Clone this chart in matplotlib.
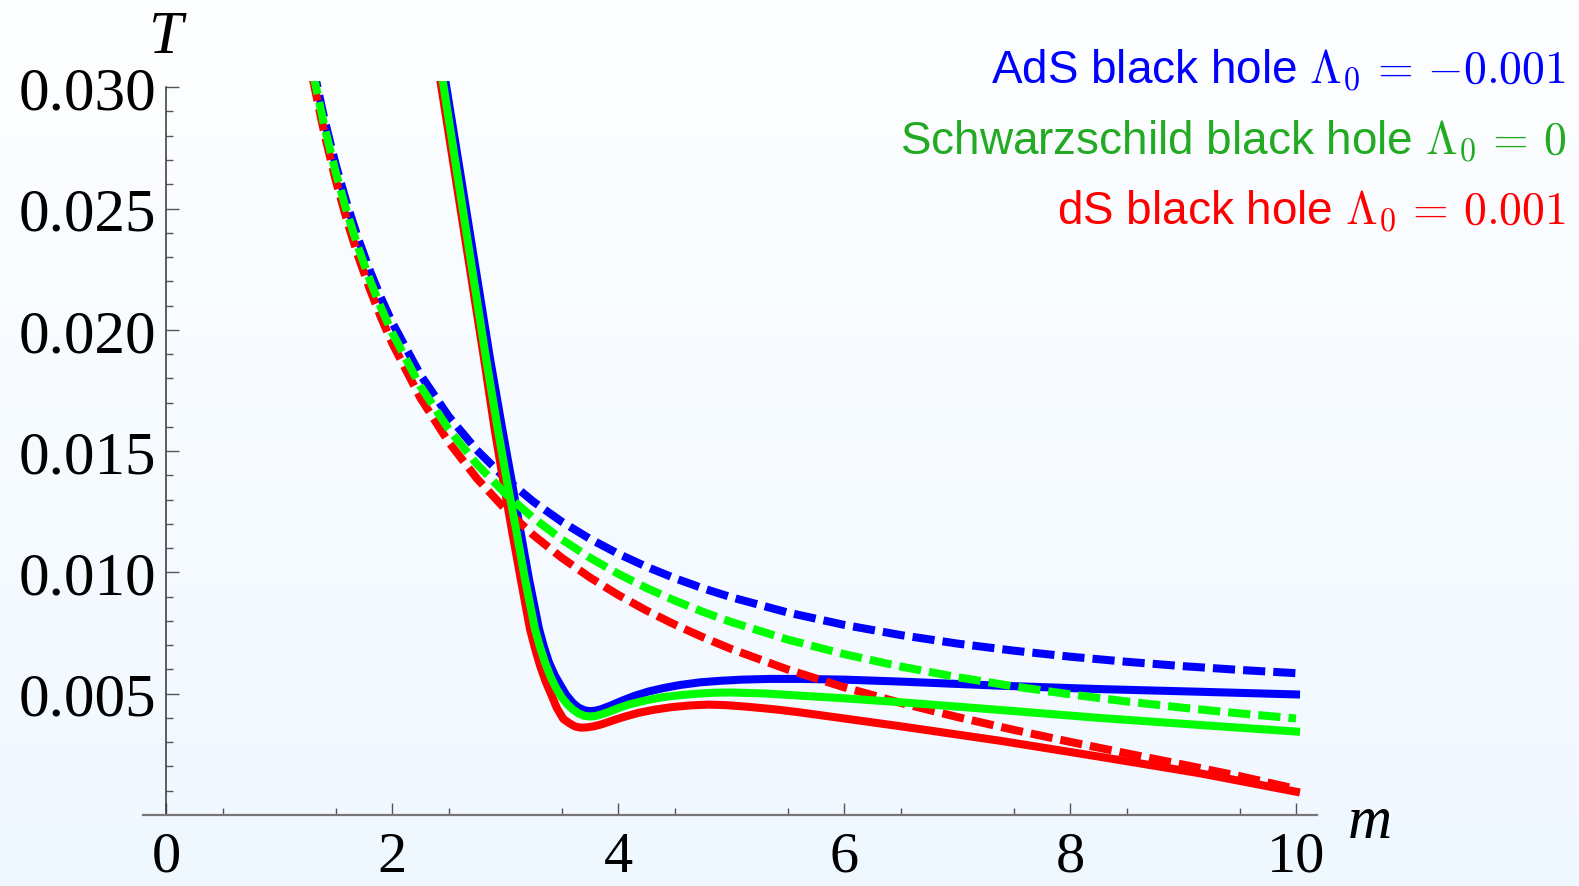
import numpy as np
import matplotlib
matplotlib.use('Agg')
import matplotlib.pyplot as plt
import matplotlib.patches
from matplotlib.colors import LinearSegmentedColormap

plt.rcParams['mathtext.fontset'] = 'cm'

# ============================================================================
# DATA
# ============================================================================

# dashed curves, common mass grid
m_dash = [1.3, 1.4, 1.5, 1.6, 1.7, 1.8, 1.9, 2.0, 2.25, 2.5, 2.75, 3.0, 3.25, 3.5,
          3.75, 4.0, 4.25, 4.5, 4.75, 5.0, 5.5, 6.0, 6.5, 7.0, 7.5, 8.0, 8.5, 9.0,
          9.5, 10.0]
T_dash_ads = [0.030882, 0.028717, 0.026843, 0.025206, 0.023764, 0.022485, 0.021343,
              0.020316, 0.018157, 0.016440, 0.015045, 0.013890, 0.012921, 0.012096,
              0.011387, 0.010773, 0.010237, 0.009765, 0.009347, 0.008979, 0.008349,
              0.007838, 0.007418, 0.007068, 0.006775, 0.006527, 0.006316, 0.006136,
              0.005980, 0.005846]
T_dash_schw = [0.030607, 0.028421, 0.026526, 0.024868, 0.023405, 0.022105, 0.020942,
               0.019894, 0.017684, 0.015915, 0.014469, 0.013263, 0.012243, 0.011368,
               0.010610, 0.009947, 0.009362, 0.008842, 0.008377, 0.007958, 0.007234,
               0.006632, 0.006121, 0.005684, 0.005305, 0.004974, 0.004681, 0.004421,
               0.004188, 0.003979]
T_dash_ds = [0.030330, 0.028123, 0.026206, 0.024527, 0.023043, 0.021721, 0.020536,
             0.019467, 0.017202, 0.015379, 0.013878, 0.012617, 0.011541, 0.010610,
             0.009796, 0.009076, 0.008433, 0.007855, 0.007331, 0.006847, 0.005999,
             0.005267, 0.004622, 0.004042, 0.003511, 0.003015, 0.002542, 0.002078,
             0.001603, 0.001076]

# solid curves
m_solid_ads = [2.42, 2.472, 2.584, 2.726, 2.868, 2.976, 3.056, 3.133, 3.212, 3.301,
               3.345, 3.389, 3.44, 3.493, 3.54, 3.60, 3.65, 3.70, 3.75, 3.80, 3.85,
               3.93, 4.03, 4.14, 4.27, 4.40, 4.55, 4.73, 4.90, 5.10, 5.35, 5.611,
               6.0, 6.496, 7.381, 8.265, 9.150, 10.0]
T_solid_ads = [0.0318, 0.03027, 0.02704, 0.02292, 0.01880, 0.01591, 0.01385, 0.01179,
               0.00973, 0.00767, 0.00692, 0.00629, 0.00576, 0.00533, 0.00496, 0.00462,
               0.00443, 0.00432, 0.00428, 0.00430, 0.00436, 0.00450, 0.00470, 0.00490,
               0.00509, 0.00523, 0.00536, 0.00547, 0.00553, 0.00558, 0.00561, 0.00561,
               0.00558, 0.00550, 0.00533, 0.00519, 0.00508, 0.00497]

m_solid_schw = [2.398, 2.449, 2.557, 2.695, 2.833, 2.936, 3.014, 3.097, 3.177, 3.265,
                3.31, 3.354, 3.40, 3.457, 3.50, 3.55, 3.60, 3.65, 3.70, 3.75, 3.80,
                3.85, 3.90, 4.00, 4.10, 4.25, 4.40, 4.55, 4.70, 4.85, 5.0, 5.3,
                5.611, 6.0, 6.496, 7.381, 8.265, 9.150, 10.0]
T_solid_schw = [0.0318, 0.03027, 0.02704, 0.02292, 0.01880, 0.01591, 0.01385, 0.01179,
                0.00973, 0.00767, 0.00692, 0.00629, 0.00573, 0.00519, 0.00486, 0.00457,
                0.00435, 0.00419, 0.00409, 0.00406, 0.00408, 0.00414, 0.00422, 0.00440,
                0.00456, 0.00473, 0.00486, 0.00494, 0.00500, 0.00504, 0.00505, 0.00501,
                0.00492, 0.00481, 0.00465, 0.00433, 0.00400, 0.00371, 0.00344]

m_solid_ds = [2.378, 2.428, 2.537, 2.676, 2.815, 2.908, 2.982, 3.059, 3.139, 3.221,
              3.265, 3.310, 3.36, 3.413, 3.46, 3.516, 3.57, 3.62, 3.67, 3.72, 3.78,
              3.85, 3.95, 4.05, 4.18, 4.32, 4.48, 4.65, 4.80, 4.95, 5.15, 5.40,
              5.611, 6.0, 6.496, 7.381, 8.265, 9.150, 10.0]
T_solid_ds = [0.0318, 0.03027, 0.02704, 0.02292, 0.01880, 0.01591, 0.01385, 0.01179,
              0.00973, 0.00767, 0.00688, 0.00616, 0.00550, 0.00492, 0.00440, 0.00396,
              0.00378, 0.00365, 0.00360, 0.00361, 0.00365, 0.00373, 0.00389, 0.00404,
              0.00421, 0.00434, 0.00445, 0.00452, 0.00455, 0.00453, 0.00446, 0.00435,
              0.00423, 0.00398, 0.00366, 0.00306, 0.00240, 0.00172, 0.00096]

labels = [r'AdS black hole $\Lambda_0\,=\,{-0.001}$',
          r'Schwarzschild black hole $\Lambda_0\,=\,0$',
          r'dS black hole $\Lambda_0\,=\,0.001$']
label_colors = ['#0000FF', '#22AA22', '#FF0000']

x_ticks = [0, 2, 4, 6, 8, 10]
x_ticklabels = ['0', '2', '4', '6', '8', '10']
y_ticks = [0.005, 0.010, 0.015, 0.020, 0.025, 0.030]
y_ticklabels = ['0.005', '0.010', '0.015', '0.020', '0.025', '0.030']

# ============================================================================
# FIGURE
# ============================================================================

W, H = 1579, 887
fig = plt.figure(figsize=(W / 100, H / 100), dpi=100)

# background gradient (white at top -> pale blue at bottom)
bg = fig.add_axes([0, 0, 1, 1], zorder=0)
bgmap = LinearSegmentedColormap.from_list('bg', ['#F0F8FF', '#FDFEFF'])
bg.imshow(np.linspace(1, 0, 256).reshape(-1, 1), cmap=bgmap, aspect='auto',
          extent=[0, 1, 0, 1], vmin=0, vmax=1)
bg.axis('off')

ax = fig.add_axes([0, 0, 1, 1], zorder=1)
ax.patch.set_alpha(0)

# pixel mapping: x_px = 166 + 113*m ; y_px(from top) = 816 - 24260*T
x0, sx = 166, 113
y0, sy = 816, 24260
ax.set_xlim(-x0 / sx, (W - x0) / sx)
ax.set_ylim((y0 - H) / sy, y0 / sy)

clip = matplotlib.patches.Rectangle((-0.5, -0.01), 11.0, 0.04027, transform=ax.transData)

lw = 5.8
dash = (2.75, 1.0)
curves = [
    ('#0000FF', m_solid_ads, T_solid_ads, T_dash_ads, 2),
    ('#FF0000', m_solid_ds, T_solid_ds, T_dash_ds, 3),
    ('#00FF00', m_solid_schw, T_solid_schw, T_dash_schw, 4),
]
for col, ms, Ts, Td, z in curves:
    l1, = ax.plot(ms, Ts, color=col, lw=lw, solid_joinstyle='round', zorder=z)
    l2, = ax.plot(m_dash, Td, color=col, lw=lw, dashes=dash, dash_capstyle='butt', zorder=z)
    l1.set_clip_path(clip)
    l2.set_clip_path(clip)

# axes through the origin, Mathematica style
for s in ['top', 'right']:
    ax.spines[s].set_visible(False)
ax.spines['left'].set_position(('data', 0))
ax.spines['bottom'].set_position(('data', 0))
ax.spines['left'].set_bounds(0, 0.030)
ax.spines['bottom'].set_bounds(-0.2, 10.19)
ax.spines['left'].set_color('#333333')
ax.spines['bottom'].set_color('#777777')
ax.spines['left'].set_linewidth(1.1)
ax.spines['bottom'].set_linewidth(1.6)

ax.set_xticks(x_ticks)
ax.set_xticklabels(x_ticklabels)
ax.set_xticks(np.arange(0.5, 10.01, 1.0), minor=True)
ax.set_yticks(y_ticks)
ax.set_yticklabels(y_ticklabels)
ax.set_yticks([v / 1000 for v in range(1, 30) if v % 5 != 0], minor=True)

for t in ax.get_xticklabels():
    t.set_fontfamily('Liberation Serif')
    t.set_fontsize(42)
for t in ax.get_yticklabels():
    t.set_fontfamily('Liberation Serif')
    t.set_fontsize(44)
ax.tick_params(axis='x', which='major', direction='in', length=9, width=1.0,
               color='#555555', pad=11.5)
ax.tick_params(axis='x', which='minor', direction='in', length=5, width=1.0,
               color='#555555')
ax.tick_params(axis='y', which='major', direction='in', length=9, width=1.0,
               color='#555555', pad=7)
ax.tick_params(axis='y', which='minor', direction='in', length=5, width=1.0,
               color='#555555')

# axis labels
fig.text(166 / W, 1 - 38 / H, 'T', fontsize=44, family='Liberation Serif',
         style='italic', ha='center', va='center')
fig.text(1370 / W, 1 - 823 / H, 'm', fontsize=44, family='Liberation Serif',
         style='italic', ha='center', va='center')

# legend text, right aligned
for i, (lab, col) in enumerate(zip(labels, label_colors)):
    fig.text(1566 / W, 1 - (83 + 70.5 * i) / H, lab, color=col, fontsize=33,
             family='Liberation Sans', ha='right', va='baseline')

plt.savefig('out.png', dpi=100)
